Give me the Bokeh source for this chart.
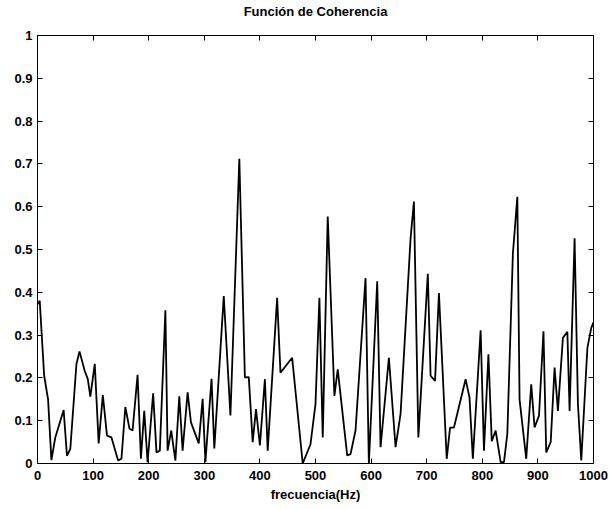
from bokeh.plotting import figure
from bokeh.models import LinearAxis, FixedTicker
from bokeh.embed import file_html
from bokeh.resources import INLINE

freq = [0, 4, 12, 19, 25, 32, 47, 53, 59, 70, 75.5, 85, 90.5, 95, 103, 110, 117.5, 125, 133, 145,
        151, 158, 165.5, 171, 180, 186, 192, 198, 208, 214, 220, 230, 234, 240.5, 248, 255, 261, 270,
        276, 290, 297, 302, 313, 318, 335, 347, 363, 373, 380, 387, 393, 400, 409, 414, 431, 437, 458,
        477, 491, 500, 507, 513, 522, 534, 540, 557, 563, 572, 590, 596, 611, 617, 632, 644, 653, 671,
        677, 685, 702, 707, 715, 722, 736, 742, 749, 770, 777, 783, 797, 803, 811, 817, 824, 833, 839,
        845, 855, 863, 867, 879, 888, 894, 902, 910, 915, 923, 930, 936, 945, 953, 957, 966, 972, 978,
        989, 996, 1000]
coherence = [0.372, 0.380, 0.205, 0.150, 0.008, 0.061, 0.125, 0.018, 0.034, 0.232, 0.262, 0.216,
             0.197, 0.156, 0.233, 0.047, 0.160, 0.065, 0.061, 0.007, 0.011, 0.132, 0.081, 0.077,
             0.207, 0.011, 0.123, 0.003, 0.164, 0.026, 0.030, 0.358, 0.030, 0.077, 0.007, 0.157,
             0.030, 0.166, 0.096, 0.047, 0.151, 0.003, 0.198, 0.035, 0.391, 0.112, 0.712, 0.201,
             0.202, 0.050, 0.127, 0.042, 0.197, 0.030, 0.387, 0.212, 0.247, 0.000, 0.045, 0.139,
             0.387, 0.061, 0.577, 0.158, 0.220, 0.019, 0.022, 0.077, 0.433, 0.000, 0.426, 0.038,
             0.247, 0.038, 0.116, 0.526, 0.612, 0.061, 0.443, 0.205, 0.193, 0.398, 0.011, 0.084,
             0.084, 0.197, 0.154, 0.011, 0.311, 0.030, 0.255, 0.052, 0.077, 0.003, 0.003, 0.069,
             0.490, 0.623, 0.150, 0.011, 0.185, 0.084, 0.112, 0.309, 0.026, 0.050, 0.224, 0.123,
             0.294, 0.308, 0.123, 0.526, 0.139, 0.007, 0.270, 0.317, 0.330]

x_ticks = [0, 100, 200, 300, 400, 500, 600, 700, 800, 900, 1000]
x_tick_labels = ["0", "100", "200", "300", "400", "500", "600", "700", "800", "900", "1000"]
y_ticks = [0, 0.1, 0.2, 0.3, 0.4, 0.5, 0.6, 0.7, 0.8, 0.9, 1]
y_tick_labels = ["0", "0.1", "0.2", "0.3", "0.4", "0.5", "0.6", "0.7", "0.8", "0.9", "1"]

title_text = "Función de Coherencia"
x_label = "frecuencia(Hz)"

FONT = "Liberation Sans"

p = figure(width=609, height=509, x_range=(0, 1000), y_range=(0, 1),
           output_backend="svg", toolbar_location=None,
           min_border_left=37, min_border_right=16, min_border_top=33, min_border_bottom=46,
           x_axis_location=None, y_axis_location=None)
p.background_fill_color = "white"
p.border_fill_color = "white"
p.outline_line_color = "black"
p.outline_line_width = 1
p.xgrid.visible = False
p.ygrid.visible = False
p.title.visible = False


def style_axis(ax, ticks, labels, show_labels):
    ax.ticker = FixedTicker(ticks=ticks)
    ax.major_tick_in = 5
    ax.major_tick_out = 0
    ax.minor_tick_line_color = None
    ax.axis_line_color = "black"
    ax.major_tick_line_color = "black"
    ax.major_label_text_font = FONT
    ax.major_label_text_font_style = "bold"
    ax.major_label_text_color = "black"
    if show_labels:
        ax.major_label_overrides = {t: l for t, l in zip(ticks, labels)}
        ax.major_label_text_font_size = "13px"
    else:
        ax.major_label_overrides = {t: "" for t in ticks}
        ax.major_label_text_font_size = "0px"
        ax.major_label_standoff = 0


bottom = LinearAxis(axis_label=x_label)
style_axis(bottom, x_ticks, x_tick_labels, True)
bottom.major_label_standoff = 7
bottom.axis_label_text_font = FONT
bottom.axis_label_text_font_style = "bold"
bottom.axis_label_text_font_size = "13px"
bottom.axis_label_text_color = "black"
bottom.axis_label_standoff = 4
p.add_layout(bottom, "below")

left = LinearAxis()
style_axis(left, y_ticks, y_tick_labels, True)
left.major_label_standoff = 5
p.add_layout(left, "left")

# top axis carries the chart title as its axis label
top = LinearAxis(axis_label=title_text)
style_axis(top, x_ticks, x_tick_labels, False)
top.axis_label_text_font = FONT
top.axis_label_text_font_style = "bold"
top.axis_label_text_font_size = "13px"
top.axis_label_text_color = "black"
top.axis_label_standoff = 17
p.add_layout(top, "above")

right = LinearAxis()
style_axis(right, y_ticks, y_tick_labels, False)
p.add_layout(right, "right")

p.line(freq, coherence, line_color="black", line_width=1.8)

open("out.html", "w").write(file_html(p, INLINE))
